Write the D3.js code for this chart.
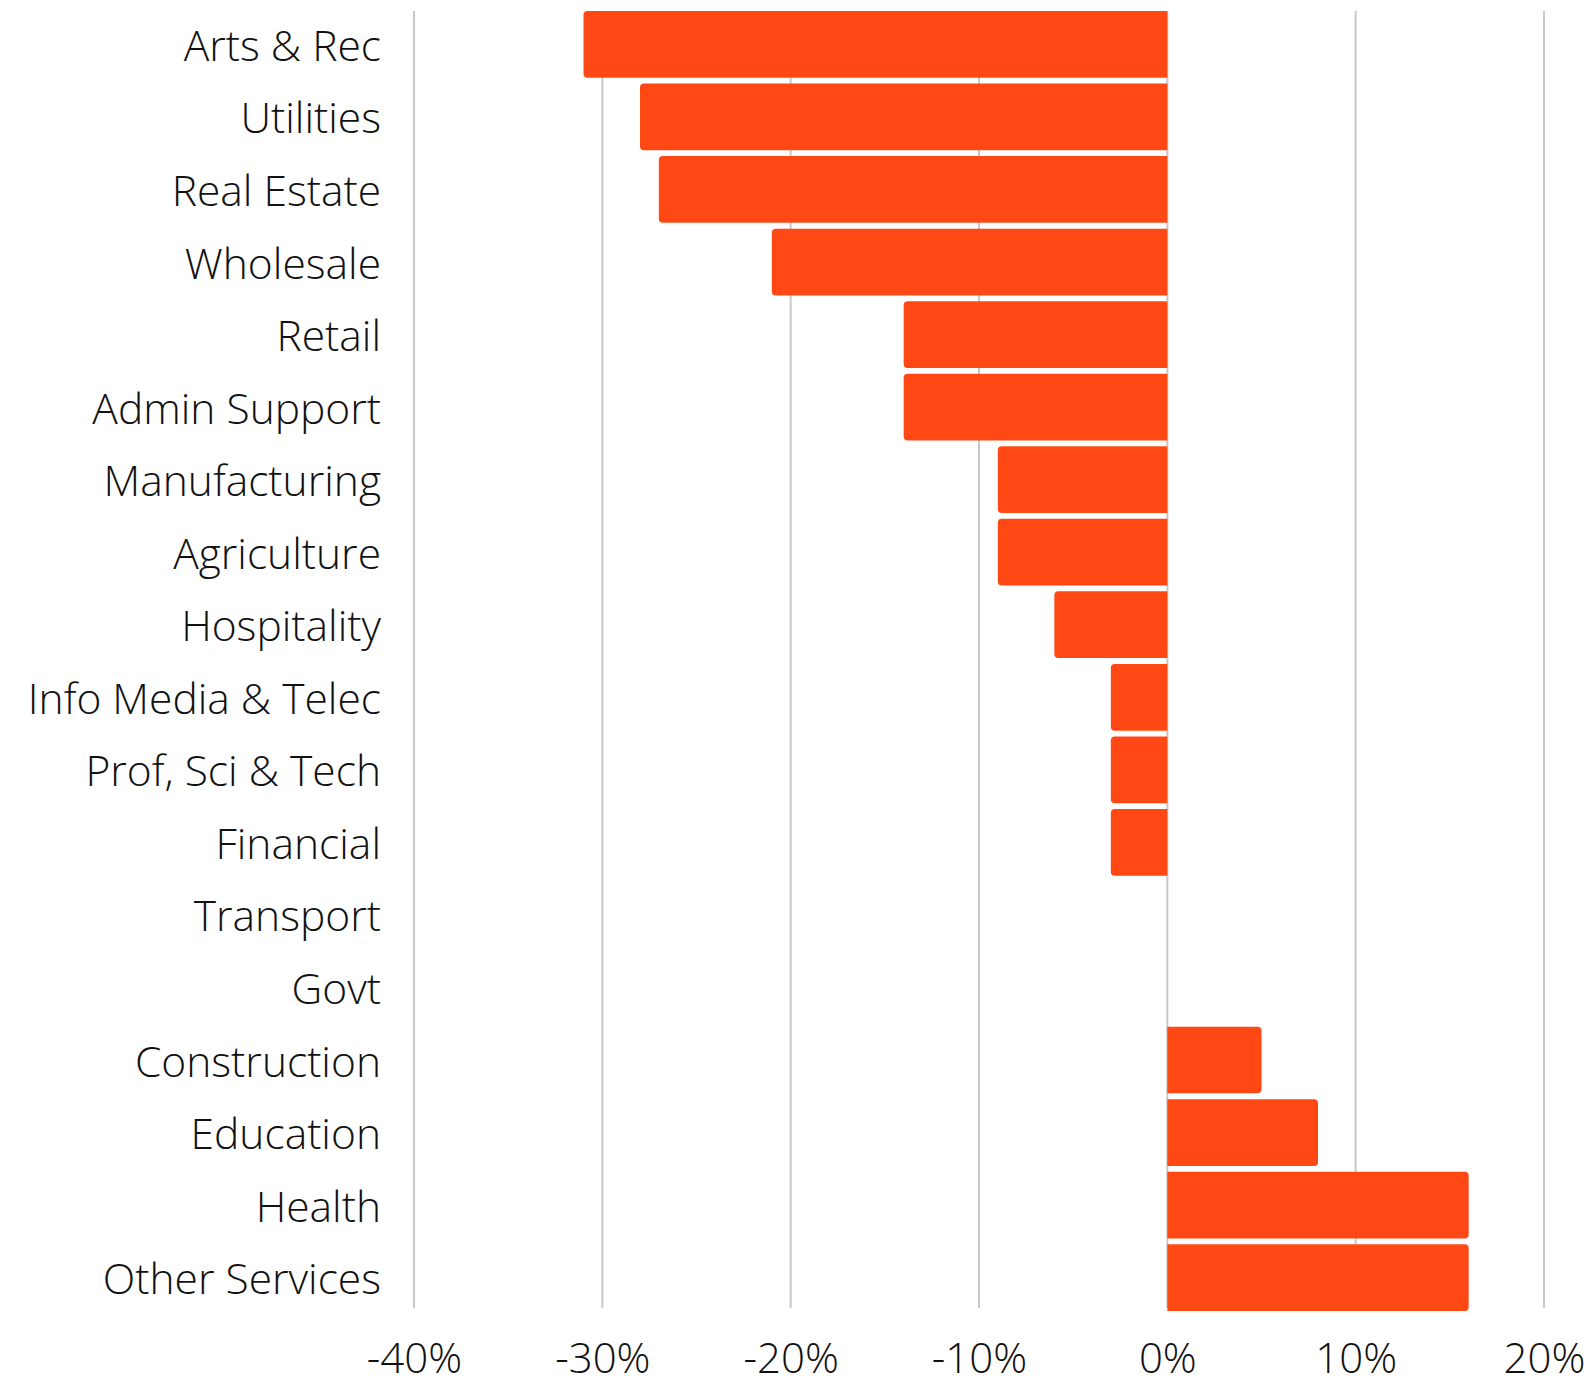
<!DOCTYPE html>
<html>
<head>
<meta charset="utf-8">
<script src="https://cdn.jsdelivr.net/npm/d3@7"></script>
<style>
  body { margin: 0; background: #fff; }
  svg text { font-family: "Open Sans", sans-serif; font-weight: 300; fill: #111; }
</style>
</head>
<body>
<div id="chart"></div>
<script>
// categories, top to bottom
var industries = ["Arts & Rec", "Utilities", "Real Estate", "Wholesale", "Retail",
    "Admin Support", "Manufacturing", "Agriculture", "Hospitality", "Info Media & Telec",
    "Prof, Sci & Tech", "Financial", "Transport", "Govt", "Construction",
    "Education", "Health", "Other Services"];
// change, in percent
var changes = [-31, -28, -27, -21, -14, -14, -9, -9, -6, -3, -3, -3, 0, 0, 5, 8, 16, 16];
var tickValues = [-40, -30, -20, -10, 0, 10, 20];

var width = 1592, height = 1380;

var svg = d3.select("#chart").append("svg")
    .attr("width", width)
    .attr("height", height);

var x = d3.scaleLinear().domain([-40, 20]).range([414, 1544]);
var y = d3.scaleBand().domain(industries).range([11, 1311])
    .paddingInner(0.08).paddingOuter(0);

// vertical gridlines
svg.append("g").selectAll("line")
    .data(tickValues)
    .enter().append("line")
    .attr("x1", function(d) { return x(d); })
    .attr("x2", function(d) { return x(d); })
    .attr("y1", 11)
    .attr("y2", 1308)
    .attr("stroke", "#c8c8c8")
    .attr("stroke-width", 2);

// bar shape, square at zero and rounded at the outer end
function barPath(v, top, h) {
    var x0 = x(0), x1 = x(v), r = 4;
    if (v === 0) return "";
    var s = v > 0 ? 1 : -1;
    return "M" + x0 + "," + top +
        "H" + (x1 - s * r) +
        "Q" + x1 + "," + top + " " + x1 + "," + (top + r) +
        "V" + (top + h - r) +
        "Q" + x1 + "," + (top + h) + " " + (x1 - s * r) + "," + (top + h) +
        "H" + x0 + "Z";
}

svg.append("g").selectAll("path")
    .data(industries)
    .enter().append("path")
    .attr("d", function(d, i) { return barPath(changes[i], y(d), y.bandwidth()); })
    .attr("fill", "#ff4814");

// category labels
var yAxis = d3.axisLeft(y).tickSize(0).tickPadding(0);
var gy = svg.append("g")
    .attr("transform", "translate(381,0)")
    .call(yAxis);
gy.select(".domain").remove();
gy.selectAll("text")
    .attr("font-family", null)
    .style("font-size", "42.5px")
    .attr("dy", "0.39em");

// percent tick labels
var xAxis = d3.axisBottom(x).tickValues(tickValues).tickSize(0).tickPadding(0)
    .tickFormat(function(d) { return d + "%"; });
var gx = svg.append("g")
    .attr("transform", "translate(0,1358)")
    .call(xAxis);
gx.select(".domain").remove();
gx.selectAll("text")
    .attr("font-family", null)
    .attr("dy", "0.35em")
    .style("font-size", "42px");
</script>
</body>
</html>
